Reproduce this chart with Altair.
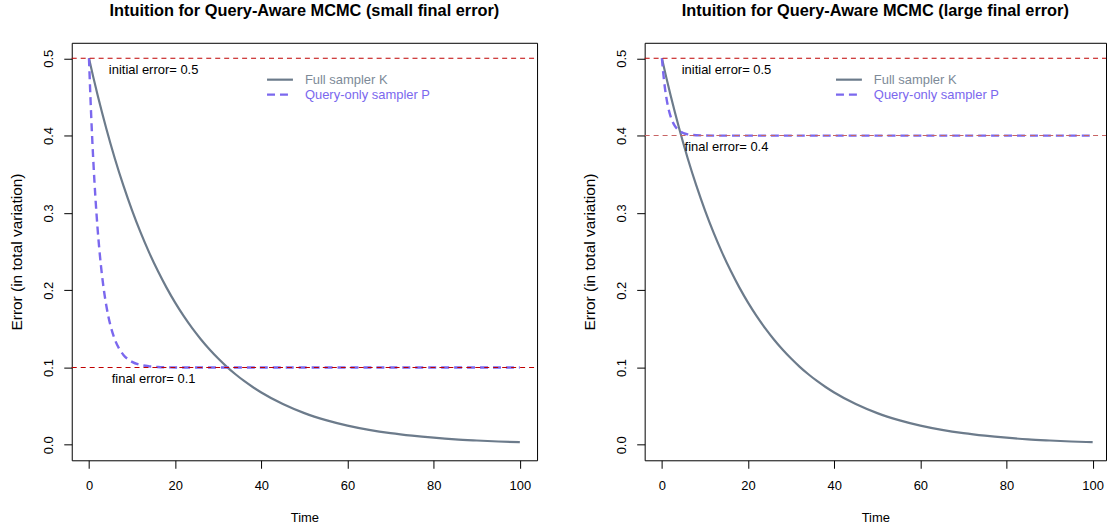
import altair as alt
import pandas as pd

FONT = "Liberation Sans"

# ---------------- data ----------------
time_k = [0, 1, 2, 3, 4, 5, 6, 8, 10, 12, 14, 16, 18, 20, 22, 24, 26, 28, 30, 32,
          34, 36, 38, 40, 45, 50, 55, 60, 65, 70, 75, 80, 85, 90, 95, 100]
err_k = [0.5, 0.4756, 0.4524, 0.4304, 0.4094, 0.3894, 0.3704, 0.3352, 0.3033, 0.2744,
         0.2483, 0.2247, 0.2033, 0.1839, 0.1664, 0.1506, 0.1363, 0.1233, 0.1116, 0.1009,
         0.0913, 0.0826, 0.0748, 0.0677, 0.0527, 0.0410, 0.0320, 0.0249, 0.0194, 0.0151,
         0.0118, 0.0092, 0.0071, 0.0056, 0.0043, 0.0034]

time_p_small = [0, 0.5, 1, 1.5, 2, 2.5, 3, 3.5, 4, 5, 6, 7, 8, 9, 10, 12, 14, 16, 18, 20,
                25, 30, 40, 50, 60, 70, 80, 90, 100]
err_p_small = [0.5, 0.4275, 0.3681, 0.3195, 0.2797, 0.2472, 0.2205, 0.1986, 0.1808, 0.1541,
               0.1363, 0.1243, 0.1163, 0.1109, 0.1073, 0.1033, 0.1015, 0.1007, 0.1003, 0.1001,
               0.1, 0.1, 0.1, 0.1, 0.1, 0.1, 0.1, 0.1, 0.1]

time_p_large = [0, 0.5, 1, 1.5, 2, 2.5, 3, 3.5, 4, 5, 6, 7, 8, 10, 12, 15, 20, 30, 40,
                50, 60, 70, 80, 90, 100]
err_p_large = [0.5, 0.4708, 0.4502, 0.4355, 0.4252, 0.4178, 0.4126, 0.4089, 0.4063, 0.4032,
               0.4016, 0.4008, 0.4004, 0.4001, 0.4, 0.4, 0.4, 0.4, 0.4, 0.4, 0.4, 0.4, 0.4,
               0.4, 0.4]

titles = ["Intuition for Query-Aware MCMC (small final error)",
          "Intuition for Query-Aware MCMC (large final error)"]
initial_error = 0.5
final_errors = [0.1, 0.4]
label_time = 15
legend_labels = ["Full sampler K", "Query-only sampler P"]
x_ticks = [0, 20, 40, 60, 80, 100]
y_ticks = [0.0, 0.1, 0.2, 0.3, 0.4, 0.5]

K_COLOR = "#6C7B8B"
K_TEXT = "#7D8A98"
P_COLOR = "#7B68EE"
RED = "#C00000"
HEIGHT = 419


def panel(title, p_time, p_err, final, width, xmax, final_color):
    xs = alt.Scale(domain=[-4, xmax], nice=False, zero=False)
    ys = alt.Scale(domain=[-0.02, 0.52], nice=False, zero=False)
    xaxis = alt.Axis(values=x_ticks, title="Time", tickSize=8, labelPadding=11,
                     titlePadding=19, format="d")
    yaxis = alt.Axis(values=y_ticks, title="Error (in total variation)", tickSize=8,
                     labelPadding=8, labelAngle=270, labelAlign="center",
                     labelBaseline="bottom", format=".1f", titlePadding=18,
                     titleFontSize=15.5)

    k_df = pd.DataFrame({"t": time_k, "e": err_k})
    p_df = pd.DataFrame({"t": p_time, "e": p_err})

    k_line = alt.Chart(k_df).mark_line(color=K_COLOR, strokeWidth=2.2,
                                       interpolate="monotone").encode(
        x=alt.X("t:Q", scale=xs, axis=xaxis),
        y=alt.Y("e:Q", scale=ys, axis=yaxis),
    )
    p_line = alt.Chart(p_df).mark_line(color=P_COLOR, strokeWidth=2.4,
                                       strokeDash=[8, 5],
                                       interpolate="monotone").encode(
        x=alt.X("t:Q", scale=xs, axis=xaxis),
        y=alt.Y("e:Q", scale=ys, axis=yaxis),
    )

    init_rule = alt.Chart(pd.DataFrame({"e": [initial_error]})).mark_rule(
        color=RED, strokeWidth=1, strokeDash=[5, 4]).encode(
        y=alt.Y("e:Q", scale=ys, axis=yaxis), x=alt.value(0), x2=alt.value(width))
    final_rule = alt.Chart(pd.DataFrame({"e": [final]})).mark_rule(
        color=final_color, strokeWidth=1.1, strokeDash=[5, 4]).encode(
        y=alt.Y("e:Q", scale=ys, axis=yaxis), x=alt.value(0), x2=alt.value(width))

    ann_df = pd.DataFrame({
        "t": [label_time, label_time],
        "e": [initial_error - 0.015, final - 0.015],
        "label": [f"initial error= {initial_error}", f"final error= {final}"],
    })
    ann = alt.Chart(ann_df).mark_text(font=FONT, fontSize=13, color="black",
                                      align="center", baseline="middle").encode(
        x=alt.X("t:Q", scale=xs, axis=xaxis),
        y=alt.Y("e:Q", scale=ys, axis=yaxis),
        text="label:N",
    )

    one = pd.DataFrame({"k": [0]})
    leg_k_line = alt.Chart(one).mark_rule(color=K_COLOR, strokeWidth=2.2).encode(
        x=alt.value(width - 271), x2=alt.value(width - 245), y=alt.value(37))
    leg_p_line = alt.Chart(one).mark_rule(color=P_COLOR, strokeWidth=2.4,
                                          strokeDash=[8, 5]).encode(
        x=alt.value(width - 271), x2=alt.value(width - 245), y=alt.value(52))
    leg_k_text = alt.Chart(one).mark_text(font=FONT, fontSize=13, color=K_TEXT,
                                          align="left", baseline="middle",
                                          text=legend_labels[0]).encode(
        x=alt.value(width - 233), y=alt.value(37))
    leg_p_text = alt.Chart(one).mark_text(font=FONT, fontSize=13, color=P_COLOR,
                                          align="left", baseline="middle",
                                          text=legend_labels[1]).encode(
        x=alt.value(width - 233), y=alt.value(52))

    return alt.layer(k_line, p_line, init_rule, final_rule, ann,
                     leg_k_line, leg_p_line, leg_k_text, leg_p_text).properties(
        width=width, height=HEIGHT,
        title=alt.TitleParams(title, font=FONT, fontSize=16.4, fontWeight="bold",
                              anchor="middle", offset=23, color="black"),
    )


left = panel(titles[0], time_p_small, err_p_small, final_errors[0], 467, 104, RED)
right = panel(titles[1], time_p_large, err_p_large, final_errors[1], 463, 103.1, "#C86464")

chart = alt.hconcat(left, right, spacing=43).properties(
    padding={"left": 9, "top": 2, "right": 0, "bottom": 0}
).configure_view(stroke="black", strokeWidth=1).configure_axis(
    labelFont=FONT, titleFont=FONT, labelFontSize=13, titleFontSize=13,
    labelColor="black", titleColor="black", tickColor="black", tickWidth=1,
    grid=False, domain=False, titleFontWeight="normal", labelFlush=False,
    labelOverlap=False,
)

chart.save("out.html", embed_options={"renderer": "svg", "actions": False})
